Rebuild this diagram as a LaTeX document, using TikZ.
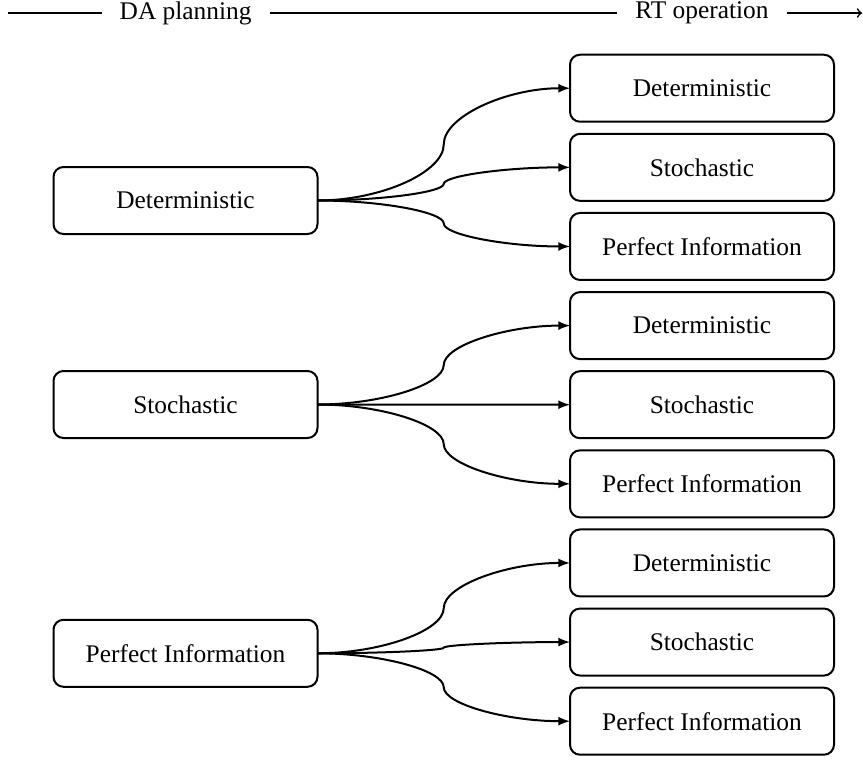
\documentclass[tikz,border=0pt]{standalone}
\usepackage{fontspec}
\setmainfont{Liberation Serif}
\usetikzlibrary{matrix,arrows,calc}

\tikzset{
box/.style={draw, rounded corners=5pt, line width=1pt, minimum width=132pt, minimum height=33.5pt, inner sep=0pt, outer sep=0pt},
fork/.style={to path={let \p1=(\tikztostart), \p2=(\tikztotarget) in
 .. controls ({(3*\x1+\x2)/4},\y1) and ({(\x1+\x2)/2},{(3*\y1+\y2)/4})
 .. ({(\x1+\x2)/2},{(\y1+\y2)/2})
 .. controls ({(\x1+\x2)/2},{(\y1+3*\y2)/4}) and ({(\x1+3*\x2)/4},\y2)
 .. (\tikztotarget) \tikztonodes}}
}

\begin{document}
\begin{tikzpicture}[x=.5pt, y=-.5pt, font=\fontsize{12.7pt}{15pt}\selectfont]
\useasboundingbox (0,0) rectangle (863,761);
% time line
\coordinate (t0) at (8,13);
\coordinate (t1) at (862,13);
\draw[->, line width=.8pt] (t0) -- (t1)
 node (plan) [pos=.208, fill=white, inner xsep=9pt, inner ysep=1pt] {DA planning}
 node (oper) [pos=.8126, fill=white, inner xsep=9pt, inner ysep=1pt] {RT operation};
% DA cases
\node[box] (da1) at (185.5,200.5) {Deterministic};
\node[box] (da2) at (185.5,404.5) {Stochastic};
\node[box] (da3) at (185.5,653.3) {Perfect Information};
% RT cases
\matrix (rt)
[matrix of nodes,
row sep=5.06pt,
nodes={box}]
at (702,404.7)
{
	Deterministic\\
	Stochastic\\
	Perfect Information\\
	Deterministic\\
	Stochastic\\
	Perfect Information\\
	Deterministic\\
	Stochastic\\
	Perfect Information\\
};
\draw[-latex, line width=1pt] (da1.east) to[fork] (rt-1-1.west);
\draw[-latex, line width=1pt] (da1.east) to[fork] (rt-2-1.west);
\draw[-latex, line width=1pt] (da1.east) to[fork] (rt-3-1.west);
\draw[-latex, line width=1pt] (da2.east) to[fork] (rt-4-1.west);
\draw[-latex, line width=1pt] (da2.east) to[fork] (rt-5-1.west);
\draw[-latex, line width=1pt] (da2.east) to[fork] (rt-6-1.west);
\draw[-latex, line width=1pt] (da3.east) to[fork] (rt-7-1.west);
\draw[-latex, line width=1pt] (da3.east) to[fork] (rt-8-1.west);
\draw[-latex, line width=1pt] (da3.east) to[fork] (rt-9-1.west);
\end{tikzpicture}
\end{document}
